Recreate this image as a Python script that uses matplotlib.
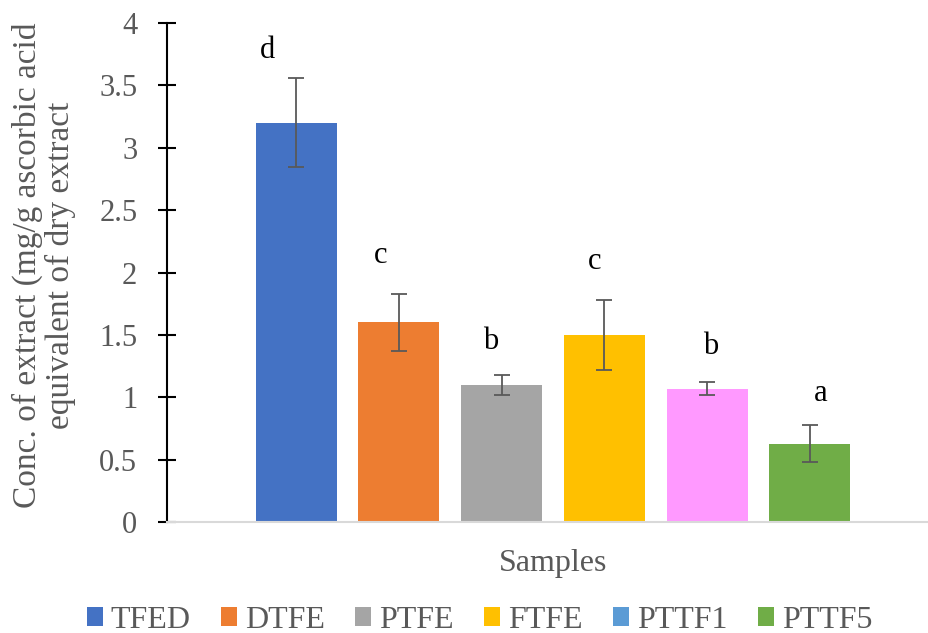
import matplotlib
matplotlib.use("Agg")
import matplotlib.pyplot as plt
from matplotlib.patches import Patch

samples = ["TFED", "DTFE", "PTFE", "FTFE", "PTTF1", "PTTF5"]
values = [3.20, 1.60, 1.10, 1.50, 1.07, 0.63]
errors = [0.355, 0.23, 0.08, 0.28, 0.055, 0.15]
letters = ["d", "c", "b", "c", "b", "a"]
letter_y = [3.78, 2.14, 1.45, 2.09, 1.41, 1.03]
letter_dx = [-0.28, -0.18, -0.11, -0.09, 0.03, 0.11]
bar_colors = ["#4472C4", "#ED7D31", "#A5A5A5", "#FFC000", "#FF99FF", "#70AD47"]
legend_colors = ["#4472C4", "#ED7D31", "#A5A5A5", "#FFC000", "#5B9BD5", "#70AD47"]
yticks = [0, 0.5, 1, 1.5, 2, 2.5, 3, 3.5, 4]

plt.rcParams['font.family'] = ['Liberation Serif', 'DejaVu Serif']
gray = "#595959"

fig = plt.figure(figsize=(9.29, 6.33), dpi=100)
ax = fig.add_axes([0.18, 0.175, 0.82, 0.789])

x = list(range(len(samples)))
ax.bar(x, values, width=0.79, color=bar_colors, zorder=2)
ax.errorbar(x, values, yerr=errors, fmt='none', ecolor=gray, elinewidth=1.3,
            capsize=5.5, capthick=1.3, zorder=3)
for xi, dx, ly, t in zip(x, letter_dx, letter_y, letters):
    ax.text(xi + dx, ly, t, ha='center', va='center', fontsize=22, color='black')

ax.set_xlim(-1.255, 6.16)
ax.set_ylim(0, 4)
ax.set_yticks(yticks)
ax.set_yticklabels([f"{t:g}" for t in yticks])
ax.set_xticks([])
for s in ['top', 'right']:
    ax.spines[s].set_visible(False)
ax.spines['left'].set_color('black')
ax.spines['left'].set_linewidth(1.5)
ax.spines['bottom'].set_color('#D9D9D9')
ax.spines['bottom'].set_linewidth(1.5)
ax.tick_params(axis='y', direction='inout', length=13, width=1.5, color='black',
               labelsize=22, labelcolor=gray, pad=15)

ax.set_xlabel("Samples", fontsize=23, color=gray)
ax.xaxis.set_label_coords(0.507, -0.082)
ax.xaxis.label.set_va('center')
ax.set_ylabel("Conc. of extract (mg/g ascorbic acid\nequivalent of dry extract", fontsize=24,
              color=gray, linespacing=1.08)
ax.yaxis.set_label_coords(-0.162, 0.515)
ax.yaxis.label.set_va('center')

handles = [Patch(facecolor=c, edgecolor='none') for c in legend_colors]
fig.legend(handles, samples, loc='center', bbox_to_anchor=(0.516, 0.02), ncol=6,
           frameon=False, fontsize=23, labelcolor=gray, handlelength=0.5, handleheight=0.5,
           handletextpad=0.25, columnspacing=0.95, borderpad=0)

fig.savefig("out.png", dpi=100)
